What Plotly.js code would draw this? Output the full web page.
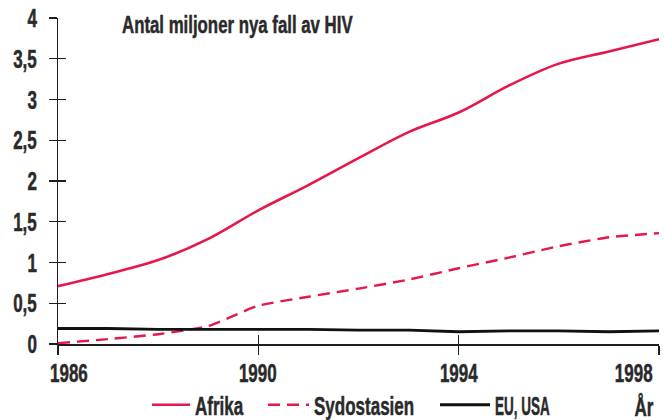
<!DOCTYPE html>
<html>
<head>
<meta charset="utf-8">
<script src="https://cdn.plot.ly/plotly-3.0.1.min.js"></script>
<style>
  html, body { margin: 0; padding: 0; background: #ffffff; }
  #chart { width: 664px; height: 420px; }
  #chart svg text { stroke: #2a2a2a; stroke-width: 0.5px; }
</style>
</head>
<body>
<div id="chart"></div>
<script>
// ---- data ----
const years = [1986, 1987, 1988, 1989, 1990, 1991, 1992, 1993, 1994, 1995, 1996, 1997, 1998];
const afrika = [0.71, 0.86, 1.03, 1.29, 1.64, 1.95, 2.28, 2.60, 2.84, 3.17, 3.44, 3.59, 3.74];
const sydostasien = [0.01, 0.06, 0.12, 0.22, 0.47, 0.58, 0.68, 0.79, 0.93, 1.06, 1.20, 1.31, 1.36];
const euUsa = [0.19, 0.19, 0.18, 0.18, 0.18, 0.18, 0.17, 0.17, 0.15, 0.16, 0.16, 0.15, 0.16];

const seriesNames = ['Afrika', 'Sydostasien', 'EU, USA'];
const xTickVals = [1986, 1990, 1994, 1998];
const xTickText = ['1986', '1990', '1994', '1998'];
const yTickVals = [0, 0.5, 1, 1.5, 2, 2.5, 3, 3.5, 4];
const yTickText = ['0', '0,5', '1', '1,5', '2', '2,5', '3', '3,5', '4'];
const titleText = 'Antal miljoner nya fall av HIV';
const xAxisLabel = 'År';

// ---- styling ----
const FONT = '"Liberation Sans", Arial, sans-serif';
const TXT = '#2a2a2a';
const RED = '#e5174b';
const AX = '#1e1e1e';
const SZ = 25;
const labelFont = { family: FONT, size: SZ, color: TXT, weight: 'bold' };

const traces = [
  { x: years, y: afrika, name: seriesNames[0], type: 'scatter', mode: 'lines', legend: 'legend',
    line: { color: RED, width: 2.6, shape: 'spline', smoothing: 1 } },
  { x: years, y: sydostasien, name: seriesNames[1], type: 'scatter', mode: 'lines', legend: 'legend2',
    line: { color: RED, width: 2.4, dash: '12px,7px', shape: 'spline', smoothing: 0.5 } },
  { x: years, y: euUsa, name: seriesNames[2], type: 'scatter', mode: 'lines', legend: 'legend3',
    line: { color: '#111111', width: 2.8 } },
  // empty trace so that the overlaid axes (inner tick halves) are drawn
  { x: [], y: [], xaxis: 'x2', yaxis: 'y2', showlegend: false, hoverinfo: 'skip' }
];

// x tick labels: first one starts at the axis, last one ends at the axis end
const xTickAnnotations = xTickVals.map((v, i) => {
  const first = i === 0, last = i === xTickVals.length - 1;
  const anchor = first ? 'left' : (last ? 'right' : 'center');
  return {
    x: v, xref: 'x', y: 0, yref: 'paper',
    text: xTickText[i], showarrow: false,
    xanchor: anchor, align: anchor,
    xshift: first ? -10 : (last ? -4 : 0),
    yanchor: 'middle', yshift: -29, font: labelFont
  };
});

// y tick labels, right-aligned left of the axis
const yTickAnnotations = yTickVals.map((v, i) => ({
  x: 0, xref: 'paper', y: v, yref: 'y',
  text: yTickText[i], showarrow: false,
  xanchor: 'right', align: 'right', xshift: -19,
  yanchor: 'middle', font: labelFont
}));

function legendBox(px, itemw) {
  return {
    orientation: 'h', xref: 'container', x: px / 664, xanchor: 'left',
    yref: 'container', y: 1 - 405 / 420, yanchor: 'middle',
    font: labelFont, itemwidth: itemw, bgcolor: 'rgba(0,0,0,0)', borderwidth: 0
  };
}

const layout = {
  width: 664, height: 420,
  paper_bgcolor: '#ffffff', plot_bgcolor: '#ffffff',
  margin: { l: 58, r: 5, t: 18, b: 76, pad: 0, autoexpand: false },
  font: { family: FONT, color: TXT, weight: 'bold' },
  title: {
    text: titleText, xref: 'container', yref: 'container',
    x: 122 / 664, xanchor: 'left', y: 1 - 25 / 420, yanchor: 'middle',
    font: { family: FONT, size: 24, color: TXT, weight: 'bold' }
  },
  showlegend: true,
  legend: legendBox(147, 38),
  legend2: legendBox(263, 41),
  legend3: legendBox(435, 50),
  xaxis: {
    range: [1986, 1998], showgrid: false, zeroline: false,
    showline: true, linecolor: AX, linewidth: 1.5,
    ticks: 'outside', ticklen: 9, tickwidth: 1.3, tickcolor: AX,
    tickvals: xTickVals, showticklabels: false, fixedrange: true
  },
  xaxis2: {
    overlaying: 'x', range: [1986, 1998], showgrid: false, zeroline: false,
    showline: false, ticks: 'inside', ticklen: 9, tickwidth: 1.3, tickcolor: AX,
    tickvals: xTickVals, showticklabels: false
  },
  yaxis: {
    range: [0, 4], showgrid: false, zeroline: false,
    showline: true, linecolor: AX, linewidth: 1.5,
    ticks: 'outside', ticklen: 8, tickwidth: 1.3, tickcolor: AX,
    tickvals: yTickVals, showticklabels: false, fixedrange: true
  },
  yaxis2: {
    overlaying: 'y', range: [0, 4], showgrid: false, zeroline: false,
    showline: false, ticks: 'inside', ticklen: 8, tickwidth: 1.3, tickcolor: AX,
    tickvals: yTickVals, showticklabels: false
  },
  annotations: xTickAnnotations.concat(yTickAnnotations, [
    { x: (644 - 58) / 601, xref: 'paper', y: 0, yref: 'paper', yanchor: 'middle', yshift: -63,
      xanchor: 'center', text: xAxisLabel, showarrow: false, font: labelFont }
  ])
};

// Condense all text horizontally (the original uses a narrow, condensed typeface,
// whose capitals are especially narrow)
function condense() {
  const gd = document.getElementById('chart');
  gd.querySelectorAll('svg text').forEach(t => {
    if (t.hasAttribute('textLength')) return;
    const len = t.getComputedTextLength();
    if (!len) return;
    const letters = (t.textContent.match(/\p{L}/gu) || []);
    const caps = letters.filter(c => c === c.toUpperCase()).length;
    let f = t.classList.contains('gtitle') ? 0.70 : 0.68;
    if (letters.length > 2 && caps / letters.length > 0.6) f = 0.54;
    t.setAttribute('textLength', (len * f).toFixed(2));
    t.setAttribute('lengthAdjust', 'spacingAndGlyphs');
  });
}

Plotly.newPlot('chart', traces, layout, { displayModeBar: false, staticPlot: true })
  .then(gd => {
    condense();
    gd.on('plotly_afterplot', condense);
    requestAnimationFrame(condense);
    setTimeout(condense, 30);
    setTimeout(condense, 150);
  });
</script>
</body>
</html>
